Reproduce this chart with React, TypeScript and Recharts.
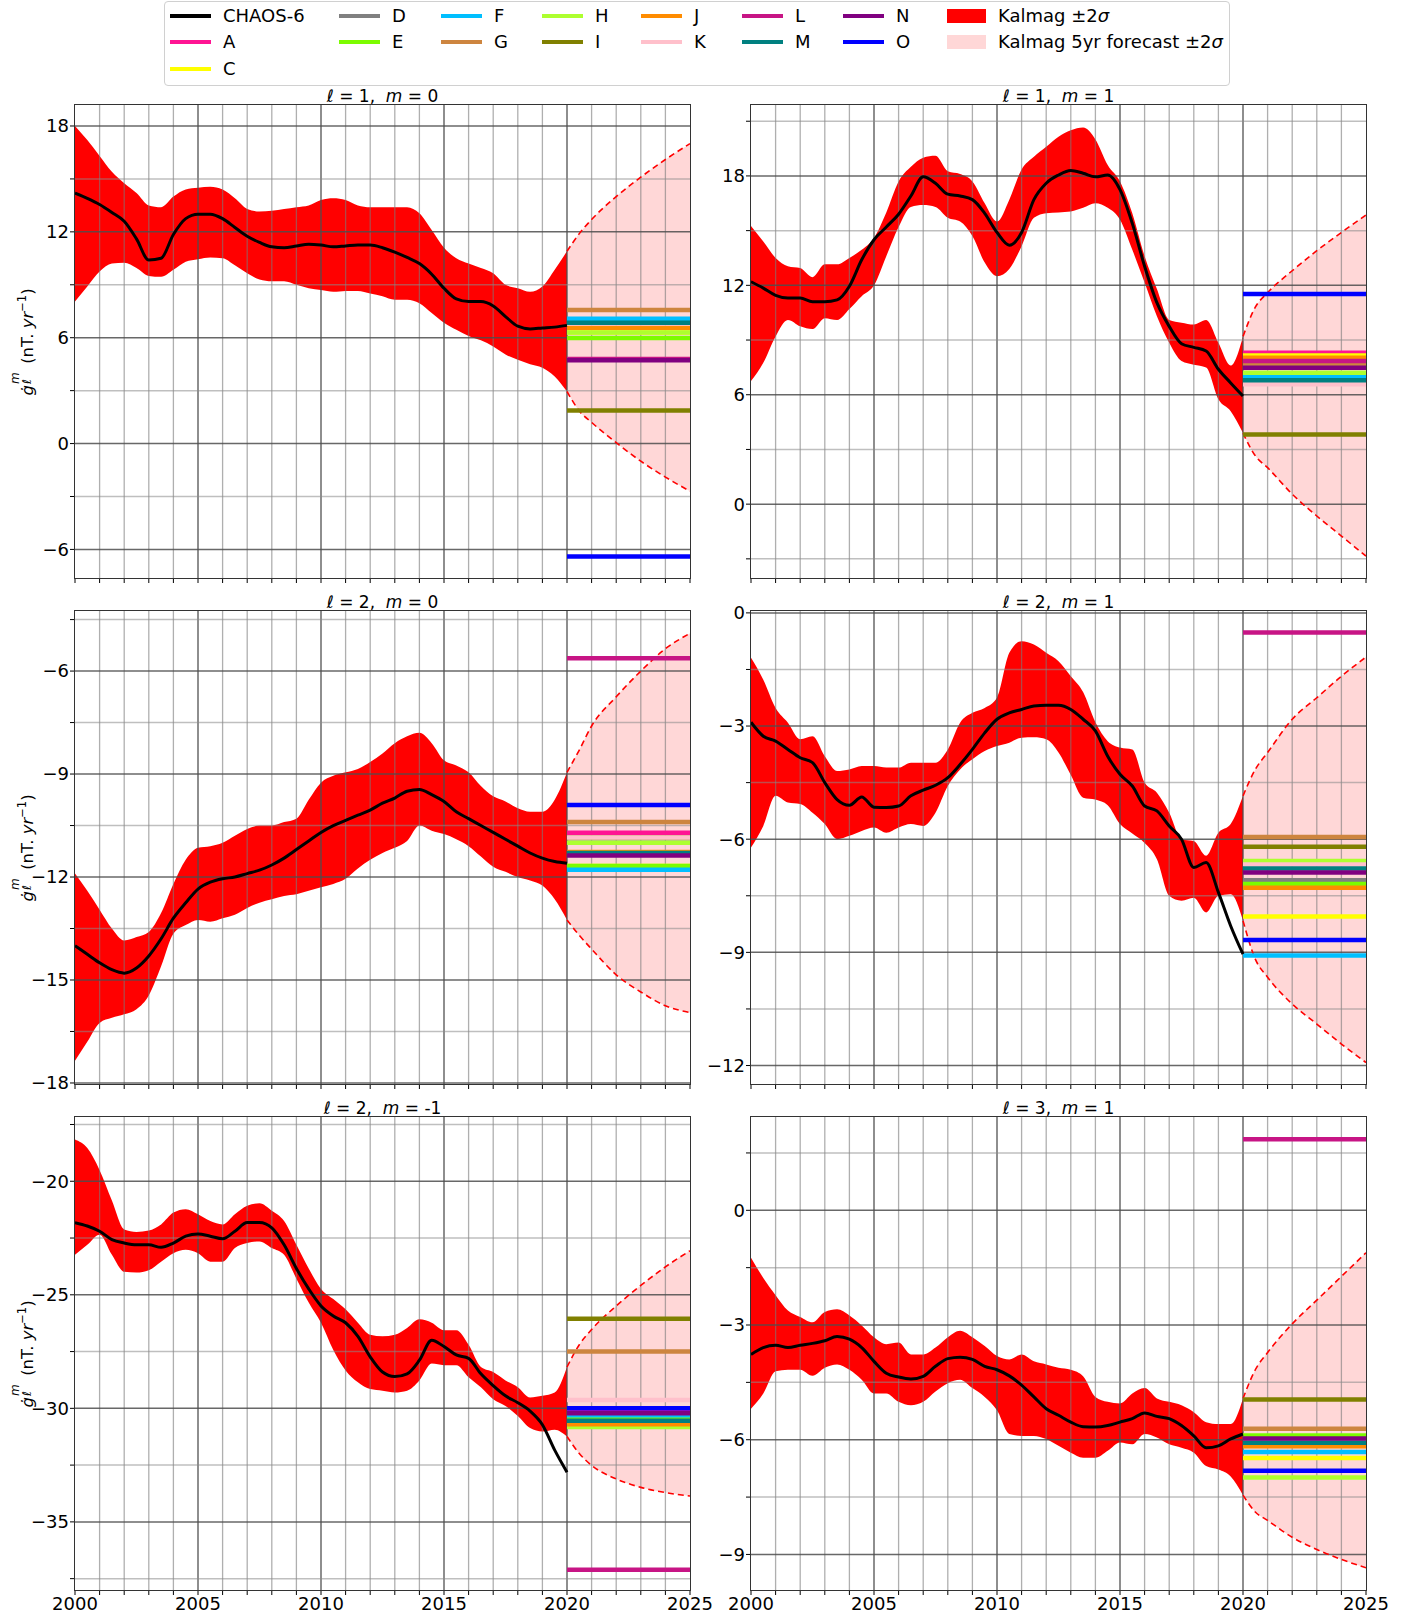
import React from "react";
import { ComposedChart, Area, Line, XAxis, YAxis, ReferenceLine } from "recharts";

const FONT = "'DejaVu Sans', sans-serif";

// sample years for the Kalmag band and CHAOS-6
const YEARS = [
  2000, 2000.5, 2001, 2001.5, 2002, 2002.5, 2003, 2003.5, 2004, 2004.5, 2005, 2005.5, 2006, 2006.5,
  2007, 2007.5, 2008, 2008.5, 2009, 2009.5, 2010, 2010.5, 2011, 2011.5, 2012, 2012.5, 2013, 2013.5,
  2014, 2014.5, 2015, 2015.5, 2016, 2016.5, 2017, 2017.5, 2018, 2018.5, 2019, 2019.5, 2020,
];
const FC_YEARS = [2020, 2020.5, 2021, 2022, 2023, 2024, 2025];
const X_TICKS = [
  2000, 2001, 2002, 2003, 2004, 2005, 2006, 2007, 2008, 2009, 2010, 2011, 2012, 2013, 2014, 2015, 2016,
  2017, 2018, 2019, 2020, 2021, 2022, 2023, 2024, 2025,
];
const X_LABELS = [2000, 2005, 2010, 2015, 2020, 2025];

const MODEL_NAMES = ["A", "C", "D", "E", "F", "G", "H", "I", "J", "K", "L", "M", "N", "O"];
const MODEL_COLORS = [
  "#ff1493", "#ffff00", "#808080", "#7cfc00", "#00bfff", "#cd853f", "#adff2f",
  "#808000", "#ff8c00", "#ffc0cb", "#c71585", "#008080", "#800080", "#0000ff",
];

// l=1, m=0
const chaos10 = [14.2, 13.9, 13.55, 13.1, 12.6, 11.6, 10.4, 10.5, 11.85, 12.75, 13.0, 13.0, 12.75, 12.25, 11.75, 11.4, 11.15, 11.1, 11.2, 11.3, 11.25, 11.15, 11.2, 11.25, 11.25, 11.1, 10.85, 10.55, 10.2, 9.6, 8.8, 8.2, 8.05, 8.05, 7.8, 7.2, 6.65, 6.5, 6.55, 6.6, 6.7];
const hi10 = [18.0, 17.2, 16.3, 15.4, 14.75, 14.2, 13.5, 13.4, 14.0, 14.4, 14.5, 14.55, 14.4, 13.9, 13.3, 13.15, 13.2, 13.3, 13.4, 13.5, 13.8, 13.9, 13.8, 13.5, 13.4, 13.4, 13.4, 13.4, 13.05, 12.1, 11.1, 10.5, 10.2, 9.95, 9.65, 9.0, 8.8, 8.6, 8.9, 9.85, 10.9];
const lo10 = [8.05, 8.9, 9.75, 10.2, 10.25, 9.95, 9.5, 9.45, 9.85, 10.3, 10.45, 10.55, 10.5, 10.1, 9.65, 9.3, 9.2, 9.2, 9.0, 8.8, 8.7, 8.6, 8.65, 8.65, 8.5, 8.35, 8.15, 8.15, 7.95, 7.4, 6.85, 6.45, 6.1, 5.85, 5.5, 5.05, 4.75, 4.5, 4.3, 3.8, 2.95];
const fcHi10 = [10.9, 11.9, 12.7, 14.0, 15.1, 16.1, 17.0];
const fcLo10 = [2.95, 1.85, 1.2, 0.05, -1.0, -1.9, -2.7];
const models10 = [6.95, 6.3, 6.85, 5.98, 7.07, 7.57, 6.3, 1.87, 6.56, 6.8, 4.8, 6.85, 4.72, -6.4];

// l=1, m=1
const chaos11 = [12.2, 11.85, 11.45, 11.3, 11.3, 11.1, 11.1, 11.2, 11.95, 13.4, 14.5, 15.2, 15.9, 16.9, 17.95, 17.6, 17.0, 16.9, 16.7, 15.95, 14.9, 14.2, 14.9, 16.7, 17.6, 18.05, 18.3, 18.15, 17.95, 18.05, 17.25, 15.4, 13.05, 11.05, 9.75, 8.8, 8.6, 8.4, 7.4, 6.65, 5.93];
const hi11 = [15.25, 14.4, 13.5, 13.05, 12.95, 12.45, 13.15, 13.15, 13.5, 13.95, 14.6, 16.0, 17.7, 18.5, 19.0, 19.1, 18.25, 18.1, 17.7, 16.5, 15.5, 16.7, 18.35, 19.05, 19.6, 20.15, 20.5, 20.65, 20.0, 18.6, 17.7, 15.95, 13.6, 11.8, 10.1, 9.95, 9.85, 10.1, 8.85, 7.6, 9.2];
const lo11 = [6.75, 7.75, 9.2, 10.1, 9.75, 9.6, 10.2, 10.1, 10.7, 11.4, 12.0, 13.6, 15.2, 16.3, 16.4, 16.3, 15.7, 15.5, 14.7, 13.25, 12.5, 12.9, 14.15, 15.7, 15.95, 16.0, 16.05, 16.25, 16.5, 16.25, 15.6, 13.95, 12.15, 10.3, 8.85, 7.85, 7.65, 7.5, 5.75, 5.1, 3.9];
const fcHi11 = [9.2, 10.8, 11.6, 12.8, 13.9, 14.9, 15.85];
const fcLo11 = [3.9, 2.65, 2.0, 0.55, -0.65, -1.75, -2.85];
const models11 = [8.3, 8.15, 7.5, 7.1, 6.99, 7.65, 7.2, 3.82, 8.03, 6.57, 7.85, 6.79, 7.48, 11.52];

// l=2, m=0
const chaos20 = [-14.0, -14.25, -14.5, -14.7, -14.8, -14.65, -14.3, -13.8, -13.2, -12.75, -12.35, -12.15, -12.05, -12.0, -11.9, -11.8, -11.65, -11.45, -11.2, -10.95, -10.7, -10.5, -10.35, -10.2, -10.05, -9.85, -9.7, -9.5, -9.45, -9.6, -9.8, -10.1, -10.3, -10.5, -10.7, -10.9, -11.1, -11.3, -11.45, -11.55, -11.6];
const hi20 = [-11.9, -12.4, -12.95, -13.5, -13.85, -13.75, -13.6, -13.05, -12.2, -11.5, -11.15, -11.1, -11.0, -10.8, -10.6, -10.5, -10.5, -10.4, -10.3, -9.75, -9.25, -9.05, -8.95, -8.85, -8.65, -8.4, -8.1, -7.9, -7.8, -8.1, -8.6, -8.75, -8.95, -9.35, -9.65, -9.8, -10.0, -10.1, -10.1, -9.75, -8.95];
const lo20 = [-17.35, -16.8, -16.25, -16.1, -16.0, -15.85, -15.45, -14.6, -13.65, -13.4, -13.25, -13.3, -13.2, -13.1, -12.9, -12.75, -12.65, -12.55, -12.5, -12.4, -12.3, -12.2, -12.05, -11.75, -11.5, -11.3, -11.15, -10.95, -10.5, -10.65, -10.75, -10.9, -11.1, -11.4, -11.7, -11.85, -12.0, -12.1, -12.25, -12.65, -13.25];
const fcHi20 = [-8.95, -8.3, -7.6, -6.75, -6.0, -5.35, -4.9];
const fcLo20 = [-13.25, -13.7, -14.1, -14.85, -15.35, -15.75, -15.95];
const models20 = [-10.71, -11.68, -11.0, -11.68, -11.79, -10.4, -11.0, -10.85, -11.27, -10.85, -5.63, -11.3, -11.37, -9.9];

// l=2, m=1
const chaos21 = [-2.9, -3.27, -3.4, -3.62, -3.84, -3.97, -4.5, -4.95, -5.1, -4.88, -5.15, -5.16, -5.12, -4.85, -4.7, -4.57, -4.37, -4.02, -3.62, -3.18, -2.82, -2.65, -2.56, -2.47, -2.45, -2.45, -2.56, -2.82, -3.13, -3.8, -4.28, -4.59, -5.12, -5.25, -5.65, -6.0, -6.75, -6.62, -7.41, -8.3, -9.05];
const hi21 = [-1.19, -1.77, -2.52, -2.91, -3.35, -3.27, -3.8, -4.19, -4.15, -4.06, -4.06, -4.1, -4.1, -3.97, -3.97, -3.97, -3.62, -2.91, -2.65, -2.52, -2.25, -1.06, -0.75, -0.84, -1.06, -1.28, -1.68, -2.1, -2.9, -3.4, -3.57, -3.62, -4.5, -4.77, -5.3, -6.0, -6.05, -6.44, -5.83, -5.6, -4.85];
const lo21 = [-6.22, -5.65, -4.85, -5.03, -5.07, -5.3, -5.6, -6.0, -5.91, -5.78, -5.69, -5.83, -5.69, -5.6, -5.65, -5.3, -4.59, -4.15, -3.88, -3.66, -3.53, -3.44, -3.31, -3.3, -3.35, -3.7, -4.3, -4.9, -4.95, -5.1, -5.6, -5.85, -6.1, -6.53, -7.5, -7.63, -7.55, -7.94, -7.5, -7.46, -8.16];
const fcHi21 = [-4.85, -4.15, -3.7, -2.82, -2.25, -1.68, -1.17];
const fcLo21 = [-8.16, -9.18, -9.66, -10.37, -10.9, -11.43, -11.92];
const models21 = [-6.62, -8.05, -7.09, -7.19, -9.08, -5.94, -6.58, -6.2, -7.29, -6.67, -0.52, -6.78, -6.88, -8.67];

// l=2, m=-1
const chaos2m1 = [-21.82, -21.97, -22.2, -22.57, -22.72, -22.8, -22.8, -22.91, -22.72, -22.42, -22.32, -22.42, -22.53, -22.2, -21.82, -21.82, -22.05, -22.8, -23.84, -24.74, -25.49, -25.93, -26.23, -26.83, -27.73, -28.4, -28.6, -28.48, -27.88, -27.0, -27.28, -27.65, -27.8, -28.48, -29.0, -29.45, -29.75, -30.12, -30.72, -31.84, -32.81];
const hi2m1 = [-18.16, -18.54, -19.51, -20.85, -22.12, -22.23, -22.17, -21.9, -21.38, -21.23, -21.45, -21.75, -21.9, -21.45, -21.08, -20.97, -21.3, -21.75, -22.8, -23.84, -24.74, -25.19, -25.64, -26.23, -26.76, -26.83, -26.76, -26.46, -26.08, -26.23, -26.56, -26.56, -27.2, -28.18, -28.4, -28.77, -29.07, -29.52, -29.45, -29.3, -28.18];
const lo2m1 = [-23.24, -22.8, -22.35, -23.24, -23.99, -24.02, -23.92, -23.54, -23.17, -23.02, -23.17, -23.54, -23.54, -22.94, -22.72, -22.65, -22.94, -23.24, -24.29, -25.34, -26.23, -27.43, -28.33, -28.85, -29.15, -29.22, -29.3, -29.22, -28.77, -28.03, -28.1, -28.1, -28.63, -29.07, -29.6, -29.9, -30.34, -30.87, -31.02, -30.94, -31.24];
const fcHi2m1 = [-28.18, -27.2, -26.53, -25.49, -24.59, -23.77, -23.06];
const fcLo2m1 = [-31.24, -31.99, -32.51, -33.11, -33.48, -33.71, -33.86];
const models2m1 = [-30.1, -30.8, -30.5, -30.4, -30.3, -27.5, -30.82, -26.05, -30.7, -29.63, -37.11, -30.55, -30.22, -30.0];

// l=3, m=1
const chaos31 = [-3.77, -3.59, -3.53, -3.59, -3.53, -3.48, -3.41, -3.3, -3.37, -3.59, -3.95, -4.26, -4.36, -4.41, -4.34, -4.08, -3.88, -3.84, -3.9, -4.08, -4.17, -4.33, -4.57, -4.88, -5.19, -5.36, -5.54, -5.66, -5.67, -5.63, -5.54, -5.45, -5.3, -5.39, -5.45, -5.63, -5.9, -6.21, -6.16, -5.98, -5.85];
const hi31 = [-1.24, -1.77, -2.22, -2.62, -2.79, -2.93, -2.66, -2.59, -2.75, -3.01, -3.32, -3.5, -3.46, -3.77, -3.77, -3.59, -3.32, -3.15, -3.32, -3.55, -3.81, -3.9, -3.77, -3.95, -4.03, -4.12, -4.17, -4.34, -4.88, -5.01, -5.05, -4.79, -4.65, -4.92, -5.01, -5.1, -5.28, -5.54, -5.59, -5.59, -4.92];
const lo31 = [-5.19, -4.79, -4.21, -4.17, -4.17, -4.33, -4.12, -4.03, -4.17, -4.43, -4.79, -4.79, -5.01, -5.1, -5.01, -4.74, -4.52, -4.43, -4.65, -4.88, -5.23, -5.85, -5.9, -5.9, -5.98, -6.16, -6.34, -6.47, -6.47, -6.29, -6.07, -6.12, -5.85, -5.94, -6.12, -6.21, -6.34, -6.69, -6.78, -6.96, -7.45];
const fcHi31 = [-4.92, -4.17, -3.72, -2.97, -2.35, -1.73, -1.11];
const fcLo31 = [-7.45, -7.89, -8.11, -8.55, -8.87, -9.13, -9.35];
const models31 = [-6.0, -6.48, -6.1, -5.89, -6.32, -5.71, -6.99, -4.95, -6.17, -6.05, 1.86, -6.08, -5.97, -6.81];

type PanelDef = {
  l: string;
  m: string;
  chaos: number[];
  hi: number[];
  lo: number[];
  fcHi: number[];
  fcLo: number[];
  models: number[];
  domain: [number, number];
  major: number[];
  minor: number[];
};

const PANELS: PanelDef[] = [
  { l: "1", m: "0", chaos: chaos10, hi: hi10, lo: lo10, fcHi: fcHi10, fcLo: fcLo10, models: models10, domain: [-7.62, 19.19], major: [-6, 0, 6, 12, 18], minor: [-3, 3, 9, 15] },
  { l: "1", m: "1", chaos: chaos11, hi: hi11, lo: lo11, fcHi: fcHi11, fcLo: fcLo11, models: models11, domain: [-4.05, 21.89], major: [0, 6, 12, 18], minor: [-3, 3, 9, 15, 21] },
  { l: "2", m: "0", chaos: chaos20, hi: hi20, lo: lo20, fcHi: fcHi20, fcLo: fcLo20, models: models20, domain: [-18.03, -4.25], major: [-18, -15, -12, -9, -6], minor: [-16.5, -13.5, -10.5, -7.5, -4.5] },
  { l: "2", m: "1", chaos: chaos21, hi: hi21, lo: lo21, fcHi: fcHi21, fcLo: fcLo21, models: models21, domain: [-12.49, 0.05], major: [-12, -9, -6, -3, 0], minor: [-10.5, -7.5, -4.5, -1.5] },
  { l: "2", m: "-1", chaos: chaos2m1, hi: hi2m1, lo: lo2m1, fcHi: fcHi2m1, fcLo: fcLo2m1, models: models2m1, domain: [-38.0, -17.17], major: [-35, -30, -25, -20], minor: [-37.5, -32.5, -27.5, -22.5, -17.5] },
  { l: "3", m: "1", chaos: chaos31, hi: hi31, lo: lo31, fcHi: fcHi31, fcLo: fcLo31, models: models31, domain: [-9.93, 2.44], major: [-9, -6, -3, 0], minor: [-7.5, -4.5, -1.5, 1.5] },
];

const COL_X = [75, 751];
const ROW_Y = [105, 611, 1117];
const PW = 615;
const PH = 473;
const YW = 60;
const XH = 34;
const MT = 14; // top margin inside the chart svg
const MR = 34; // right margin so the 2025 label fits

function buildRows(p: PanelDef) {
  const rows: any[] = YEARS.map((x, i) => ({ x, chaos: p.chaos[i], band: [p.lo[i], p.hi[i]] }));
  FC_YEARS.forEach((x, i) => {
    let r = rows.find((row) => row.x === x);
    if (!r) {
      r = { x };
      rows.push(r);
    }
    r.fc = [p.fcLo[i], p.fcHi[i]];
    r.fcHi = p.fcHi[i];
    r.fcLo = p.fcLo[i];
  });
  return rows;
}

const fmtNum = (v: number) => (v < 0 ? "\u2212" + Math.abs(v) : String(v));

function YLabel({ cy }: { cy: number }) {
  return (
    <div
      style={{
        position: "absolute",
        left: 25,
        top: cy,
        transform: "translate(-50%, -50%) rotate(-90deg)",
        fontFamily: FONT,
        fontSize: 16.5,
        whiteSpace: "nowrap",
        lineHeight: "20px",
      }}
    >
      <i>ġ</i>
      <span style={{ position: "relative", display: "inline-block", width: 10, height: 20, verticalAlign: "top" }}>
        <span style={{ position: "absolute", left: 1, top: -3, fontSize: 12, fontStyle: "italic", lineHeight: "12px" }}>m</span>
        <span style={{ position: "absolute", left: 1, top: 9, fontSize: 12, fontStyle: "italic", lineHeight: "12px" }}>ℓ</span>
      </span>
      {"  "}
      <span style={{ marginLeft: 6 }}>(nT. </span>
      <i>yr</i>
      <sup style={{ fontSize: 11.5 }}>−1</sup>)
    </div>
  );
}

function Panel({ p, col, row }: { p: PanelDef; col: number; row: number }) {
  const data = buildRows(p);
  const left = COL_X[col];
  const top = ROW_Y[row];
  const showX = row === 2;
  const yTicks = [...p.major, ...p.minor].sort((a, b) => a - b);
  const tickStyle = { fontSize: 18, fill: "#000", fontFamily: FONT };
  const gridX = X_TICKS.filter((t) => t > 2000 && t < 2025);
  const gridY = yTicks.filter((t) => t > p.domain[0] && t < p.domain[1]);

  return (
    <>
      <div style={{ position: "absolute", left: left - YW, top: top - MT }}>
        <ComposedChart
          width={YW + PW + MR}
          height={MT + PH + XH}
          data={data}
          margin={{ top: MT, right: MR, left: 0, bottom: 0 }}
        >
          <Area
            dataKey="band"
            type="monotone"
            stroke="none"
            fill="#ff0000"
            fillOpacity={1}
            isAnimationActive={false}
            zIndex={100}
          />
          <Area
            dataKey="fc"
            type="monotone"
            stroke="none"
            fill="#ffd7d7"
            fillOpacity={1}
            isAnimationActive={false}
            zIndex={100}
          />
          {gridX.map((t) => (
            <ReferenceLine
              key={"gx" + t}
              x={t}
              stroke={t % 5 === 0 ? "#4d4d4d" : "#7a7a7a"}
              strokeOpacity={t % 5 === 0 ? 0.85 : 0.6}
              strokeWidth={t % 5 === 0 ? 1.5 : 1.3}
              zIndex={150}
            />
          ))}
          {gridY.map((t) => (
            <ReferenceLine
              key={"gy" + t}
              y={t}
              stroke={p.major.includes(t) ? "#4d4d4d" : "#8a8a8a"}
              strokeOpacity={p.major.includes(t) ? 0.85 : 0.55}
              strokeWidth={1.5}
              zIndex={150}
            />
          ))}
          <Line
            dataKey="fcHi"
            type="monotone"
            stroke="#ff0000"
            strokeWidth={1.6}
            strokeDasharray="6 4"
            dot={false}
            isAnimationActive={false}
            zIndex={200}
          />
          <Line
            dataKey="fcLo"
            type="monotone"
            stroke="#ff0000"
            strokeWidth={1.6}
            strokeDasharray="6 4"
            dot={false}
            isAnimationActive={false}
            zIndex={200}
          />
          {p.models.map((v, i) => (
            <ReferenceLine
              key={"m" + MODEL_NAMES[i]}
              segment={[
                { x: 2020, y: v },
                { x: 2025, y: v },
              ]}
              stroke={MODEL_COLORS[i]}
              strokeWidth={4.5}
              zIndex={300 + i}
            />
          ))}
          <Line
            dataKey="chaos"
            type="monotone"
            stroke="#000"
            strokeWidth={3}
            dot={false}
            isAnimationActive={false}
            zIndex={400}
          />
          <XAxis
            type="number"
            dataKey="x"
            domain={[2000, 2025]}
            ticks={X_TICKS}
            interval={0}
            allowDataOverflow
            axisLine={false}
            tickLine={{ stroke: "#000" }}
            tickSize={5}
            tickMargin={2}
            height={XH}
            tick={tickStyle}
            tickFormatter={(v: number) => (showX && X_LABELS.includes(v) ? String(v) : "")}
          />
          <YAxis
            type="number"
            domain={p.domain}
            ticks={yTicks}
            interval={0}
            allowDataOverflow
            axisLine={false}
            tickLine={{ stroke: "#000" }}
            tickSize={5}
            tickMargin={1}
            width={YW}
            tick={tickStyle}
            tickFormatter={(v: number) => (p.major.includes(v) ? fmtNum(v) : "")}
          />
        </ComposedChart>
      </div>
      <div
        style={{
          position: "absolute",
          left: left - 1,
          top: top - 1,
          width: PW + 2,
          height: PH + 2,
          border: "1px solid #333",
          boxSizing: "border-box",
          pointerEvents: "none",
        }}
      />
      <div
        style={{
          position: "absolute",
          left: left + PW / 2,
          top: top - 9,
          transform: "translate(-50%, -50%)",
          fontFamily: FONT,
          fontSize: 17,
          whiteSpace: "nowrap",
        }}
      >
        <i>ℓ</i> = {p.l},&nbsp;&nbsp;<i>m</i> = {p.m}
      </div>
      {col === 0 && <YLabel cy={top + PH / 2} />}
    </>
  );
}

// legend layout: 8 columns, filled column by column
const LEGEND_X = [170, 339, 441, 542, 641, 742, 843, 947];
const LEGEND_ROW_Y = [16, 42, 69];

function Legend() {
  const entries: { label: React.ReactNode; color: string; kind: "line" | "patch" }[] = [
    { label: "CHAOS-6", color: "#000", kind: "line" },
    ...MODEL_NAMES.map((n, i) => ({ label: n, color: MODEL_COLORS[i], kind: "line" as const })),
    { label: <>Kalmag ±2<i>σ</i></>, color: "#ff0000", kind: "patch" },
    { label: <>Kalmag 5yr forecast ±2<i>σ</i></>, color: "#ffd7d7", kind: "patch" },
  ];
  const counts = [3, 2, 2, 2, 2, 2, 2, 2];
  const placed: { e: (typeof entries)[number]; c: number; r: number }[] = [];
  let k = 0;
  counts.forEach((n, c) => {
    for (let r = 0; r < n; r++) placed.push({ e: entries[k++], c, r });
  });
  return (
    <>
      <div
        style={{
          position: "absolute",
          left: 164,
          top: 1,
          width: 1066,
          height: 85,
          border: "1px solid #d0d0d0",
          borderRadius: 4,
          boxSizing: "border-box",
          background: "#fff",
        }}
      />
      {placed.map(({ e, c, r }, i) => {
        const x = LEGEND_X[c];
        const y = LEGEND_ROW_Y[r];
        return (
          <React.Fragment key={i}>
            {e.kind === "line" ? (
              <div style={{ position: "absolute", left: x, top: y - 2, width: 41, height: 4, background: e.color }} />
            ) : (
              <div style={{ position: "absolute", left: x, top: y - 7, width: 39, height: 14, background: e.color }} />
            )}
            <div
              style={{
                position: "absolute",
                left: x + (e.kind === "line" ? 53 : 51),
                top: y,
                transform: "translateY(-50%)",
                fontFamily: FONT,
                fontSize: 18,
                whiteSpace: "nowrap",
                lineHeight: "22px",
              }}
            >
              {e.label}
            </div>
          </React.Fragment>
        );
      })}
    </>
  );
}

export default function App() {
  return (
    <div style={{ position: "absolute", left: 0, top: 0, width: 1422, height: 1617, background: "#fff", overflow: "hidden" }}>
      <Legend />
      {PANELS.map((p, i) => (
        <Panel key={i} p={p} col={i % 2} row={Math.floor(i / 2)} />
      ))}
    </div>
  );
}
